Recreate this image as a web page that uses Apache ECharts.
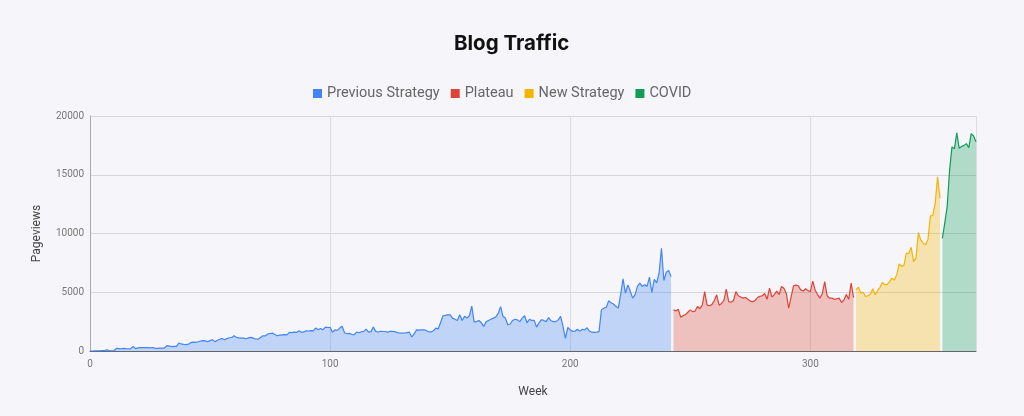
<!DOCTYPE html>
<html>
<head>
<meta charset="utf-8">
<title>Blog Traffic</title>
<script src="https://cdn.jsdelivr.net/npm/echarts@6/dist/echarts.min.js"></script>
<style>
  html, body { margin: 0; padding: 0; background: #f6f6fa; }
  #chart { width: 1024px; height: 416px; }
</style>
</head>
<body>
<div id="chart"></div>
<script>
// weekly pageviews; each phase starts at its own week
var previousStart = 0;
var previousStrategy = [
  0, 0, 10, 20, 10, 30, 40, 90, 40, 10,
  20, 230, 210, 190, 230, 200, 180, 210, 390, 200,
  270, 290, 280, 300, 290, 270, 300, 240, 220, 250,
  250, 240, 450, 420, 380, 400, 390, 680, 600, 560,
  540, 580, 720, 760, 740, 790, 850, 880, 860, 790,
  880, 960, 800, 900, 1000, 1070, 960, 1050, 1130, 1150,
  1300, 1160, 1120, 1090, 1100, 1045, 1120, 1160, 1090, 1020,
  1010, 1150, 1300, 1280, 1440, 1490, 1525, 1400, 1300, 1350,
  1380, 1400, 1370, 1580, 1560, 1600, 1580, 1720, 1600, 1610,
  1720, 1700, 1740, 1720, 1950, 1810, 1920, 1800, 2030, 2000,
  2020, 1600, 1800, 1750, 1950, 2100, 1550, 1470, 1500, 1420,
  1380, 1600, 1550, 1640, 1670, 1860, 1600, 1650, 2050, 1670,
  1620, 1680, 1660, 1660, 1600, 1680, 1670, 1650, 1560, 1530,
  1520, 1530, 1560, 1600, 1200, 1450, 1800, 1780, 1800, 1810,
  1750, 1640, 1620, 1720, 1950, 1880, 2400, 3000, 3030, 3080,
  3080, 2800, 2700, 2600, 3080, 2600, 2950, 2800, 3000, 3820,
  2450, 2500, 2600, 2400, 2090, 2500, 2600, 2700, 2800, 2900,
  3200, 3780, 2950, 2800, 2230, 2300, 2600, 2700, 2650, 2500,
  2800, 3000, 2400, 2700, 2600, 2600, 2030, 2400, 2660, 2600,
  2500, 2850, 2570, 2500, 2500, 2650, 2940, 2100, 1070, 2000,
  1800, 1670, 1680, 1850, 1670, 1850, 1800, 1980, 1700, 1600,
  1580, 1600, 1650, 3500, 3650, 3700, 4270, 4100, 4000, 3800,
  3650, 4800, 6140, 4920, 5630, 5100, 4500, 4800, 5500, 5770,
  5500, 5630, 5500, 6280, 4980, 6100, 5800, 6620, 8740, 6000,
  6700, 6850, 6330
];

var plateauStart = 243;
var plateau = [
  3500, 3400, 3550, 2880, 3000, 3100, 3300, 3500, 3350, 3400,
  3790, 3600, 3900, 5060, 3900, 3850, 3950, 4300, 4780, 3900,
  4050, 4300, 5260, 4200, 4150, 4300, 5050, 4700, 4600, 4500,
  4550, 4400, 4250, 4200, 4300, 4550, 4650, 4700, 4900, 4400,
  5350, 4600, 4800, 5100, 4800, 5490, 5350, 4900, 3640, 4600,
  5550, 5600, 5550, 5200, 5100, 5300, 5150, 5050, 5950, 5200,
  4800, 4500, 4900, 5900, 4700, 4500, 4500, 4400, 4450, 4500,
  4130, 4350, 4800, 4400, 5770, 4550
];

var newStrategyStart = 319;
var newStrategy = [
  5200, 5430, 4950, 5000, 4640, 4700, 4850, 5300, 4800, 5150,
  5400, 5830, 5650, 5650, 5900, 6200, 6050, 6500, 7410, 7200,
  7300, 8320, 8300, 8830, 7600, 7900, 10070, 9450, 9200, 9050,
  9500, 11480, 11550, 12560, 14820, 12990
];

var covidStart = 355;
var covid = [
  9590, 10900, 12280, 15390, 17370, 17200, 18560, 17250, 17400, 17500,
  17650, 17300, 18500, 18300, 17800
];

var phaseNames = ['Previous Strategy', 'Plateau', 'New Strategy', 'COVID'];
var phaseColors = ['#4285f4', '#db4437', '#f4b400', '#0f9d58'];
var yTicks = [0, 5000, 10000, 15000, 20000];
var xTicks = [0, 100, 200, 300];

function toPoints(start, values) {
  return values.map(function (v, i) { return [start + i, v]; });
}

var phases = [
  toPoints(previousStart, previousStrategy),
  toPoints(plateauStart, plateau),
  toPoints(newStrategyStart, newStrategy),
  toPoints(covidStart, covid)
];

var lastWeek = covidStart + covid.length - 1;

var chart = echarts.init(document.getElementById('chart'));

var series = phases.map(function (pts, i) {
  return {
    name: phaseNames[i],
    type: 'line',
    data: pts,
    showSymbol: false,
    symbol: 'none',
    lineStyle: { color: phaseColors[i], width: 1.2 },
    itemStyle: { color: phaseColors[i] },
    areaStyle: { color: phaseColors[i], opacity: 0.3 },
    animation: false
  };
});

var option = {
  backgroundColor: '#f6f6fa',
  title: {
    text: 'Blog Traffic',
    left: 449,
    top: 28,
    textStyle: {
      fontFamily: 'Inter',
      fontWeight: 700,
      fontSize: 20.5,
      color: '#111'
    }
  },
  legend: {
    top: 81,
    left: 308,
    itemWidth: 9,
    itemHeight: 9,
    itemGap: 11,
    icon: 'rect',
    data: phaseNames,
    textStyle: { fontFamily: 'Roboto', fontSize: 14.5, color: '#666' }
  },
  grid: {
    left: 90,
    right: 48,
    top: 116,
    bottom: 65,
    containLabel: false
  },
  xAxis: {
    type: 'value',
    min: 0,
    max: lastWeek,
    interval: 100,
    name: 'Week',
    nameLocation: 'middle',
    nameGap: 35,
    nameTextStyle: { fontFamily: 'Roboto', fontSize: 12, color: '#444' },
    axisLine: { show: true, lineStyle: { color: '#666', width: 1 } },
    axisTick: { show: false },
    axisLabel: {
      fontFamily: 'Roboto',
      fontSize: 10,
      color: '#777',
      margin: 8,
      formatter: function (v) { return xTicks.indexOf(v) >= 0 ? String(v) : ''; }
    },
    splitLine: { show: true, lineStyle: { color: '#dcdce2', width: 1 } }
  },
  yAxis: {
    type: 'value',
    min: yTicks[0],
    max: yTicks[yTicks.length - 1],
    interval: 5000,
    name: 'Pageviews',
    nameLocation: 'middle',
    nameGap: 47,
    nameRotate: 90,
    nameTextStyle: { fontFamily: 'Roboto', fontSize: 12, color: '#444' },
    axisLine: { show: true, lineStyle: { color: '#aaa', width: 1 } },
    axisTick: { show: false },
    axisLabel: {
      fontFamily: 'Roboto',
      fontSize: 10,
      color: '#777',
      margin: 6,
      formatter: function (v) { return String(v); }
    },
    splitLine: { show: true, lineStyle: { color: '#d6d6dc', width: 1 } }
  },
  series: series
};

chart.setOption(option);
</script>
</body>
</html>
